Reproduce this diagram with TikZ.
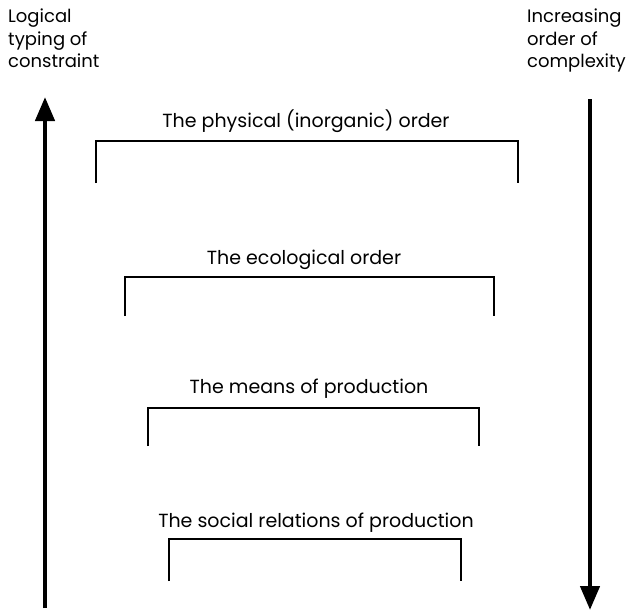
\documentclass[tikz,border=0pt]{standalone}
\usepackage{fontspec}
\setmainfont{Poppins}
\usetikzlibrary{arrows.meta}
\begin{document}
\begin{tikzpicture}[x=1pt,y=-1pt,
  sidelabel/.style={inner sep=0pt,align=left,anchor=north west,
    font=\fontsize{18}{22.5}\selectfont},
  orderlabel/.style={inner sep=0pt,anchor=base,font=\fontsize{19}{22}\selectfont},
  bracket/.style={line width=1.8pt},
  bigarrow/.style={line width=4.5pt,-{Triangle[width=19pt,length=24pt]}}]
\useasboundingbox (0,0) rectangle (628,610);
% side captions
\node[sidelabel] (typing) at (8,9) {Logical\\typing of\\constraint};
\node[sidelabel] (complex) at (527,9) {Increasing\\order of\\complexity};
% the two long arrows
\coordinate (upfoot) at (45,608);
\coordinate (uphead) at (45,97);
\coordinate (downfoot) at (590,99);
\coordinate (downhead) at (590,610);
\draw[bigarrow] (upfoot) -- (uphead);
\draw[bigarrow] (downfoot) -- (downhead);
% the four orders, each a label over an open bracket
\node[orderlabel] (phys) at (306,127) {The physical (inorganic) order};
\draw[bracket] (96,183) |- (518,141) -- (518,183);
\node[orderlabel] (eco) at (304,264) {The ecological order};
\draw[bracket] (125,316) |- (494,277) -- (494,316);
\node[orderlabel] (means) at (309,393) {The means of production};
\draw[bracket] (148,446) |- (479,408) -- (479,446);
\node[orderlabel] (social) at (316,527) {The social relations of production};
\draw[bracket] (169,581) |- (461,539) -- (461,581);
\end{tikzpicture}
\end{document}
